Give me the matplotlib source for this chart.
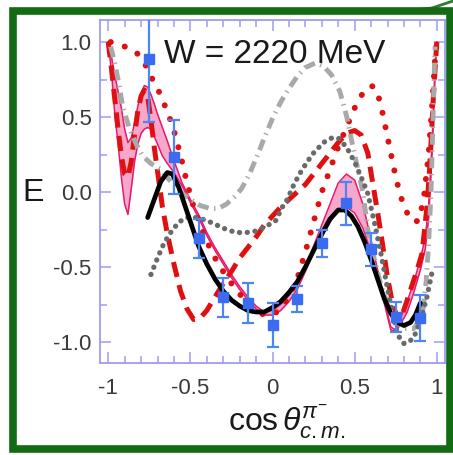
import matplotlib
matplotlib.use("Agg")
import matplotlib.pyplot as plt
from matplotlib.patches import Rectangle
from matplotlib.lines import Line2D
from matplotlib.ticker import MultipleLocator

plt.rcParams['font.family'] = ['Liberation Sans', 'DejaVu Sans']
plt.rcParams['mathtext.fontset'] = 'custom'
plt.rcParams['mathtext.rm'] = 'Liberation Sans'
plt.rcParams['mathtext.it'] = 'Liberation Sans:italic'
plt.rcParams['lines.scale_dashes'] = False

# ---------------- data ----------------
data_x = [-0.75, -0.60, -0.45, -0.30, -0.15, 0.00, 0.15, 0.30, 0.45, 0.60, 0.75, 0.90]
data_y = [0.887, 0.233, -0.307, -0.70, -0.74, -0.887, -0.713, -0.34, -0.075, -0.38, -0.83, -0.84]
data_err = [0.42, 0.245, 0.13, 0.13, 0.135, 0.145, 0.085, 0.09, 0.145, 0.11, 0.10, 0.155]

black_x = [-0.76, -0.72, -0.68, -0.64, -0.61, -0.57, -0.53, -0.49, -0.45, -0.40, -0.35, -0.30,
           -0.25, -0.20, -0.15, -0.10, -0.05, 0.00, 0.05, 0.10, 0.15, 0.20, 0.25, 0.30, 0.35,
           0.40, 0.44, 0.48, 0.52, 0.56, 0.60, 0.64, 0.68, 0.72, 0.76, 0.80, 0.84, 0.87, 0.90]
black_y = [-0.17, -0.05, 0.07, 0.13, 0.12, 0.03, -0.10, -0.23, -0.36, -0.48, -0.58, -0.66,
           -0.72, -0.76, -0.79, -0.80, -0.80, -0.77, -0.73, -0.67, -0.60, -0.50, -0.39, -0.28, -0.18,
           -0.12, -0.12, -0.16, -0.23, -0.33, -0.45, -0.58, -0.71, -0.81, -0.87, -0.89, -0.87, -0.82, -0.74]

band_x = [-1.00, -0.98, -0.96, -0.94, -0.92, -0.90, -0.88, -0.86, -0.84, -0.82, -0.80, -0.78,
          -0.76, -0.74, -0.72, -0.70, -0.67, -0.64, -0.60, -0.55, -0.50, -0.45, -0.40, -0.35,
          -0.30, -0.25, -0.20, -0.15, -0.10, -0.05, 0.00, 0.05, 0.10, 0.15, 0.20, 0.25, 0.30,
          0.35, 0.40, 0.45, 0.50, 0.55, 0.60, 0.64, 0.68, 0.72, 0.75, 0.78, 0.82, 0.86, 0.90,
          0.93, 0.95, 0.97, 0.99, 1.00]
band_hi = [1.00, 0.90, 0.78, 0.67, 0.56, 0.42, 0.33, 0.36, 0.46, 0.57, 0.66, 0.71,
           0.70, 0.65, 0.59, 0.52, 0.43, 0.34, 0.21, 0.06, -0.05, -0.15, -0.27, -0.37,
           -0.46, -0.55, -0.63, -0.70, -0.76, -0.80, -0.79, -0.75, -0.69, -0.61, -0.50, -0.36, -0.22,
           -0.08, 0.06, 0.12, 0.08, -0.08, -0.32, -0.52, -0.72, -0.90, -0.92, -0.84, -0.73, -0.60, -0.45,
           -0.30, -0.10, 0.30, 0.85, 1.00]
band_lo = [1.00, 0.80, 0.52, 0.32, 0.10, -0.08, -0.15, 0.02, 0.20, 0.32, 0.39, 0.42,
           0.43, 0.42, 0.37, 0.32, 0.24, 0.19, 0.13, 0.04, -0.07, -0.17, -0.29, -0.39,
           -0.48, -0.57, -0.65, -0.72, -0.78, -0.82, -0.82, -0.79, -0.73, -0.65, -0.53, -0.40, -0.30,
           -0.20, -0.12, -0.10, -0.14, -0.24, -0.40, -0.56, -0.74, -0.92, -0.93, -0.88, -0.80, -0.67, -0.52,
           -0.38, -0.18, 0.22, 0.80, 1.00]

rdash_x = [-1.00, -0.98, -0.96, -0.94, -0.92, -0.90, -0.88, -0.86, -0.84, -0.82, -0.80, -0.78,
           -0.76, -0.74, -0.72, -0.70, -0.67, -0.64, -0.60, -0.56, -0.52, -0.48, -0.44, -0.40,
           -0.35, -0.30, -0.25, -0.20, -0.15, -0.10, -0.05, 0.00, 0.05, 0.10, 0.15, 0.20, 0.25,
           0.30, 0.35, 0.40, 0.45, 0.50, 0.54, 0.58, 0.61, 0.645, 0.67, 0.70, 0.73, 0.76, 0.78,
           0.82, 0.88, 0.91, 0.94, 0.955, 0.966, 0.98, 1.00]
rdash_y = [1.00, 0.82, 0.62, 0.42, 0.24, 0.12, 0.10, 0.20, 0.38, 0.54, 0.64, 0.68,
           0.64, 0.48, 0.30, 0.14, -0.10, -0.28, -0.48, -0.66, -0.78, -0.85, -0.84, -0.79,
           -0.70, -0.61, -0.53, -0.44, -0.37, -0.30, -0.22, -0.16, -0.10, -0.05, 0.00, 0.05, 0.12,
           0.19, 0.26, 0.33, 0.39, 0.41, 0.38, 0.26, 0.06, -0.17, -0.35, -0.57, -0.74, -0.84, -0.85,
           -0.72, -0.52, -0.41, -0.10, 0.13, 0.35, 0.65, 1.00]

rdot_x = [-0.985, -0.95, -0.90, -0.85, -0.80, -0.76, -0.73, -0.70, -0.67, -0.64, -0.61, -0.58,
          -0.55, -0.52, -0.48, -0.44, -0.40, -0.35, -0.30, -0.25, -0.20, -0.15, -0.10, -0.05,
          0.00, 0.05, 0.10, 0.15, 0.20, 0.25, 0.30, 0.35, 0.40, 0.45, 0.50, 0.55, 0.60, 0.63,
          0.66, 0.69, 0.72, 0.75, 0.78, 0.82, 0.86, 0.89, 0.92, 0.95, 0.97, 0.99, 1.00]
rdot_y = [1.00, 0.99, 0.97, 0.95, 0.90, 0.82, 0.75, 0.69, 0.62, 0.53, 0.45, 0.33,
          0.20, 0.06, -0.10, -0.22, -0.33, -0.44, -0.53, -0.61, -0.68, -0.74, -0.79, -0.82,
          -0.82, -0.78, -0.70, -0.58, -0.40, -0.20, 0.00, 0.15, 0.30, 0.43, 0.56, 0.66, 0.71, 0.69,
          0.58, 0.42, 0.26, 0.10, -0.03, -0.14, -0.20, -0.19, -0.05, 0.25, 0.55, 0.90, 1.00]

gdd_x = [-0.985, -0.96, -0.94, -0.91, -0.87, -0.83, -0.79, -0.74, -0.68, -0.62, -0.56, -0.50,
         -0.44, -0.38, -0.33, -0.28, -0.23, -0.19, -0.14, -0.09, -0.05, 0.00, 0.05, 0.10, 0.15,
         0.20, 0.26, 0.31, 0.36, 0.41, 0.45, 0.49, 0.53, 0.55, 0.58, 0.62, 0.66, 0.70, 0.75,
         0.80, 0.86, 0.91, 0.935, 0.95, 0.965, 0.975, 0.985, 0.99]
gdd_y = [0.97, 0.86, 0.75, 0.56, 0.42, 0.32, 0.24, 0.19, 0.15, 0.07, 0.00, -0.05,
         -0.09, -0.11, -0.11, -0.08, -0.03, 0.02, 0.12, 0.25, 0.36, 0.49, 0.60, 0.69, 0.77,
         0.83, 0.86, 0.84, 0.78, 0.67, 0.51, 0.30, 0.10, 0.00, -0.25, -0.45, -0.62, -0.75, -0.86,
         -0.91, -0.91, -0.84, -0.60, -0.35, 0.00, 0.40, 0.80, 0.97]

gdot_x = [-0.74, -0.70, -0.66, -0.62, -0.57, -0.52, -0.46, -0.40, -0.34, -0.28, -0.22, -0.16,
          -0.10, -0.04, 0.02, 0.06, 0.09, 0.13, 0.17, 0.21, 0.25, 0.31, 0.36, 0.40, 0.45, 0.50,
          0.555, 0.58, 0.62, 0.66, 0.71, 0.76, 0.80, 0.83, 0.86, 0.90, 0.94, 0.97]
gdot_y = [-0.55, -0.44, -0.34, -0.27, -0.20, -0.17, -0.17, -0.19, -0.22, -0.25, -0.27, -0.27,
          -0.26, -0.23, -0.19, -0.10, -0.05, 0.05, 0.13, 0.20, 0.26, 0.33, 0.36, 0.36, 0.30, 0.20,
          0.06, -0.01, -0.20, -0.41, -0.70, -0.95, -1.01, -1.00, -0.97, -0.86, -0.70, -0.54]

title_text = "W = 2220 MeV"
xticks = [-1, -0.5, 0, 0.5, 1]
xtick_labels = ["-1", "-0.5", "0", "0.5", "1"]
yticks = [-1.0, -0.5, 0.0, 0.5, 1.0]
ytick_labels = ["-1.0", "-0.5", "0.0", "0.5", "1.0"]

# ---------------- figure ----------------
W, H = 453, 455
fig = plt.figure(figsize=(W / 100, H / 100), dpi=100)
ax = fig.add_axes([100 / W, 1 - 363 / H, 345 / W, 343 / H])

red = '#e01010'
ax.fill_between(band_x, band_lo, band_hi, color='#f5a8c9', lw=0, zorder=1)
ax.plot(band_x, band_hi, color='#e8186e', lw=1.1, zorder=2)
ax.plot(band_x, band_lo, color='#e8186e', lw=1.1, zorder=2)

ax.plot(rdash_x, rdash_y, color=red, lw=3.6, dashes=(11, 6), dash_capstyle='butt', zorder=3)
ax.plot(rdot_x, rdot_y, color=red, lw=4.3, dashes=(0.1, 10.5), dash_capstyle='round', zorder=3)
ax.plot(gdd_x, gdd_y, color='#a9a9a9', lw=3.5, dashes=(8, 4, 1, 4), dash_capstyle='butt', zorder=3)
ax.plot(gdot_x, gdot_y, color='#6a6a6a', lw=3.8, dashes=(0.1, 5.5), dash_capstyle='round', zorder=3)
ax.plot(black_x, black_y, color='black', lw=3.4, solid_capstyle='round', zorder=4)

ax.errorbar(data_x, data_y, yerr=data_err, fmt='s', color='#3b6cf0', ms=6.5,
            ecolor='#4d86f2', elinewidth=1.6, capsize=4.5, capthick=1.6, zorder=5)

ax.set_xlim(-1.05, 1.05)
ax.set_ylim(-1.14, 1.147)
ax.set_xticks(xticks)
ax.set_xticklabels(xtick_labels)
ax.set_yticks(yticks)
ax.set_yticklabels(ytick_labels)
ax.xaxis.set_minor_locator(MultipleLocator(0.1))
ax.yaxis.set_minor_locator(MultipleLocator(0.25))

spc = '#9c9cf2'
for s in ax.spines.values():
    s.set_color(spc)
    s.set_linewidth(1.3)
ax.tick_params(which='both', direction='in', top=True, right=True, color=spc, width=1.1)
ax.tick_params(which='major', length=8)
ax.tick_params(which='minor', length=5)
ax.tick_params(axis='x', which='major', labelsize=16, pad=11, labelcolor='#3a3a3a')
ax.tick_params(axis='y', which='major', labelsize=16, pad=6, labelcolor='#3a3a3a')

ax.text(-0.663, 0.86, title_text, fontsize=24, color='#1a1a1a', ha='left', va='baseline', zorder=6)

fig.text(33 / W, 1 - 193 / H, "E", fontsize=23, ha='center', va='center', color='#1a1a1a')
fig.text(228 / W, 1 - 430 / H, r'$\mathrm{cos}\,\theta^{\pi^{-}}_{c.m.}$', fontsize=23,
         ha='left', va='baseline', color='#1a1a1a')

# outer green frame
fig.patches.append(Rectangle((13 / W, 1 - 449 / H), 437 / W, 438 / H, transform=fig.transFigure,
                             fill=False, edgecolor='#136b13', lw=5.5, zorder=10))
fig.lines.append(Line2D([405 / W, 432 / W, 453 / W], [1 - 11 / H, 1 - 8 / H, 1 - 1 / H],
                        transform=fig.transFigure, color='#2e7d2e', lw=2.0, zorder=10))

fig.savefig('out.png', dpi=100)
